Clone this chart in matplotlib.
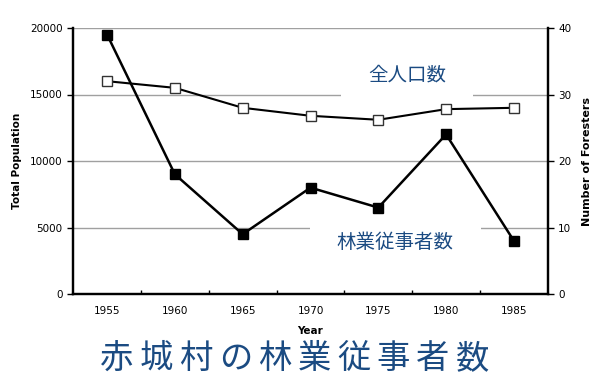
import numpy as np
import matplotlib.pyplot as plt

plt.rcParams['font.family'] = ['DejaVu Sans', 'Noto Sans CJK JP']

# データ
years = [1955, 1960, 1965, 1970, 1975, 1980, 1985]
population = [16000, 15500, 14000, 13400, 13100, 13900, 14000]
foresters = [39, 18, 9, 16, 13, 24, 8]

blue = '#1b4b82'
jp = ['Noto Sans CJK JP', 'DejaVu Sans']

fig = plt.figure(figsize=(6, 3.78), dpi=100)
ax = fig.add_axes([0.122, 0.222, 0.791, 0.704])
ax2 = ax.twinx()

x = np.arange(len(years))

# 左軸：全人口
ax.set_ylim(0, 20000)
ax.set_yticks([0, 5000, 10000, 15000, 20000])
ax.set_xlim(-0.5, len(years) - 0.5)
for v in [5000, 10000, 15000, 20000]:
    ax.axhline(v, color='#a0a0a0', lw=1, zorder=0)
ax.set_xticks(x[:-1] + 0.5)
ax.set_xticklabels([])
ax.tick_params(axis='x', direction='in', length=3, width=1)
for xi, yr in zip(x, years):
    ax.text(xi, -900, str(yr), ha='center', va='top', fontsize=7.5)
ax.text(3, -2750, 'Year', ha='center', va='center', fontsize=7.5, fontweight='bold')
ax.tick_params(axis='y', direction='out', length=4, width=1, labelsize=7.5)
ax.set_ylabel('Total Population', fontsize=7.5, fontweight='bold', labelpad=6)

# 右軸：林業従事者
ax2.set_ylim(0, 40)
ax2.set_yticks([0, 10, 20, 30, 40])
ax2.tick_params(axis='y', direction='out', length=4, width=1, labelsize=7.5)
ax2.set_ylabel('Number of Foresters', fontsize=8, fontweight='bold',
               rotation=90, labelpad=8)

for a in (ax, ax2):
    a.spines['top'].set_visible(False)
    for s in ('left', 'right', 'bottom'):
        a.spines[s].set_linewidth(1.6)

# ラベル（白い背景でグリッド線を隠す）
ax.text(4.42, 16500, '全人口数', family=jp, fontsize=14, color=blue,
        ha='center', va='center', zorder=1,
        bbox=dict(facecolor='white', edgecolor='none', boxstyle='square,pad=1.4'))
ax.text(4.25, 3900, '林業従事者数', family=jp, fontsize=14, color=blue,
        ha='center', va='center', zorder=1,
        bbox=dict(facecolor='white', edgecolor='none', boxstyle='square,pad=1.4'))

ax.plot(x, population, color='black', lw=1.5, marker='s', markersize=7,
        markerfacecolor='white', markeredgecolor='#333333', zorder=3)
ax2.plot(x, foresters, color='black', lw=1.8, marker='s', markersize=7,
         markerfacecolor='black', zorder=3)

# タイトル（字間を広めに）
title = '赤城村の林業従事者数'
x0, step = 117 / 600, 39.5 / 600
for i, ch in enumerate(title):
    fig.text(x0 + i * step, 0.052, ch, family=jp, fontsize=24,
             color=blue, ha='center', va='center')

plt.savefig('out.png', dpi=100)
plt.close()
